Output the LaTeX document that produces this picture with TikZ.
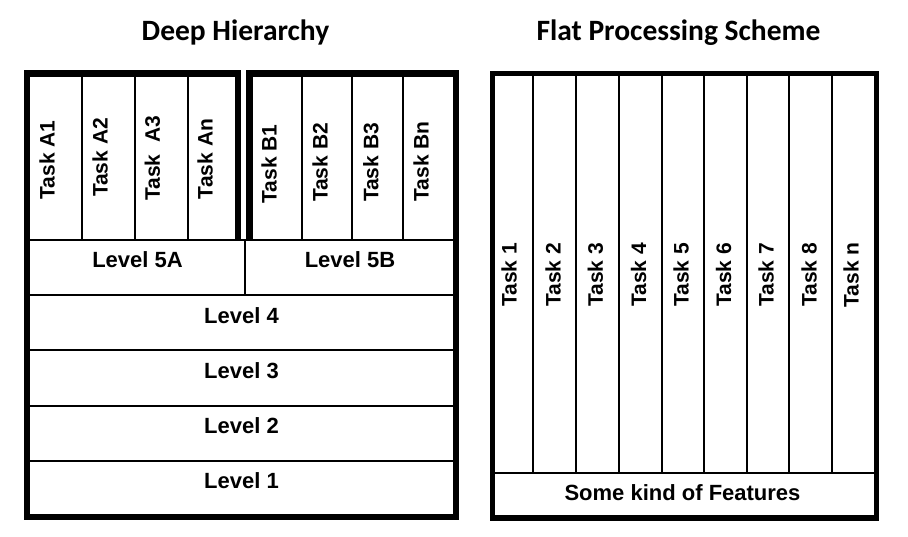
\documentclass[tikz,border=0pt]{standalone}
\usepackage{fontspec}
\setmainfont{Liberation Sans}
\newfontfamily\titlefont{Carlito}
\begin{document}
\begin{tikzpicture}[x=1pt,y=-1pt,
  thin line/.style={line width=2pt,line cap=rect},
  thick border/.style={line width=6.5pt,line join=miter},
  thick border right/.style={line width=5.5pt,line join=miter},
  tasktxt/.style={inner sep=0pt,rotate=90,font=\fontsize{21}{21}\selectfont\bfseries},
  leveltxt/.style={inner sep=0pt,font=\fontsize{22}{22}\selectfont\bfseries},
  titletxt/.style={inner sep=0pt,anchor=base,font=\fontsize{29.5}{29.5}\selectfont\titlefont\bfseries}]
\useasboundingbox[fill=white] (0,0) rectangle (908,537);

% ---------- Titles ----------
\node[titletxt] (t1) at (235.5,41) {Deep Hierarchy};
\node[titletxt] (t2) at (678.5,41) {Flat Processing Scheme};

% ---------- Deep Hierarchy: thin lines ----------
\foreach \x in {82,135,188,302,352,403}
  \draw[thin line] (\x,73.5) -- (\x,240);
\foreach \y in {240,295,350,405.5,460.5}
  \draw[thin line] (27,\y) -- (456,\y);
\draw[thin line] (245,240) -- (245,295);

% ---------- Deep Hierarchy: thick borders ----------
\draw[thick border] (238,240) -- (238,73.5) -- (27,73.5) -- (27,517)
  -- (456,517) -- (456,73.5) -- (249.5,73.5) -- (249.5,240);

% ---------- Deep Hierarchy: labels ----------
\node[tasktxt] (a1) at (47,160) {Task A1};
\node[tasktxt] (a2) at (100,157.5) {Task A2};
\node[tasktxt] (a3) at (152.5,158.5) {Task\ \ A3};
\node[tasktxt] (an) at (205,159) {Task An};
\node[tasktxt] (b1) at (269,164) {Task B1};
\node[tasktxt] (b2) at (320,162.5) {Task B2};
\node[tasktxt] (b3) at (371,162.5) {Task B3};
\node[tasktxt] (bn) at (421,161.5) {Task Bn};

\node[leveltxt] (l5a) at (137.5,260) {Level 5A};
\node[leveltxt] (l5b) at (350,260) {Level 5B};
\node[leveltxt] (l4) at (241.5,315.5) {Level 4};
\node[leveltxt] (l3) at (241.5,370.5) {Level 3};
\node[leveltxt] (l2) at (241.5,425.5) {Level 2};
\node[leveltxt] (l1) at (241.5,480.5) {Level 1};

% ---------- Flat Processing Scheme ----------
\foreach \x in {533,576,619,662,704,747,789,832}
  \draw[thin line] (\x,73.5) -- (\x,473);
\draw[thin line] (492.5,473) -- (876.5,473);
\draw[thick border right] (492.5,73.5) rectangle (876.5,518);

\node[tasktxt] (f1) at (509,275) {Task 1};
\node[tasktxt] (f2) at (553,275) {Task 2};
\node[tasktxt] (f3) at (595.5,275) {Task 3};
\node[tasktxt] (f4) at (638.5,275) {Task 4};
\node[tasktxt] (f5) at (681,275) {Task 5};
\node[tasktxt] (f6) at (723.5,275) {Task 6};
\node[tasktxt] (f7) at (766,275) {Task 7};
\node[tasktxt] (f8) at (809,275) {Task 8};
\node[tasktxt] (fn) at (851,275) {Task n};

\node[leveltxt] (feat) at (682.5,492.5) {Some kind of Features};
\end{tikzpicture}
\end{document}
